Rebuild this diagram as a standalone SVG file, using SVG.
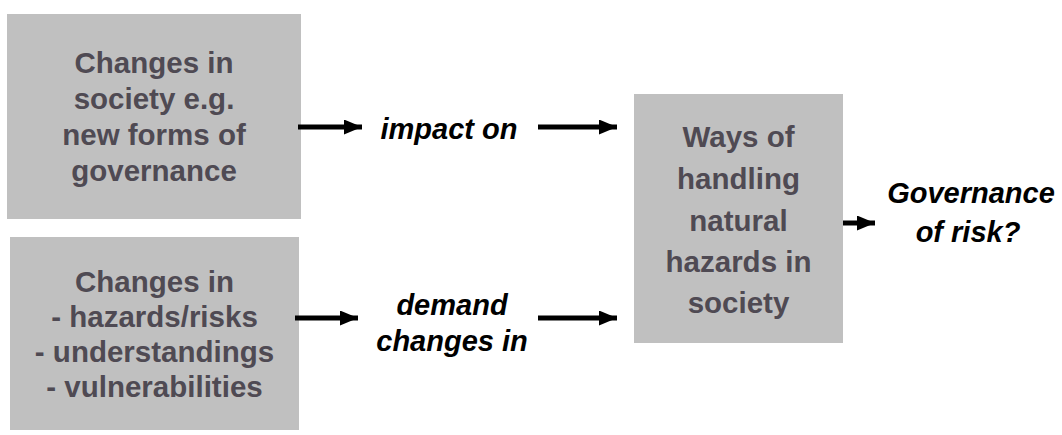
<svg xmlns="http://www.w3.org/2000/svg" width="1062" height="435" viewBox="0 0 1062 435">
<defs>
<style>
.box{fill:#c0c0c0;}
.bt{font-family:"Liberation Sans",Arial,sans-serif;font-weight:bold;font-size:29.5px;fill:#4f4a53;text-anchor:middle;}
.lt{font-family:"Liberation Sans",Arial,sans-serif;font-weight:bold;font-style:italic;font-size:29px;fill:#000;text-anchor:middle;}
.ar{stroke:#000;stroke-width:5;fill:none;marker-end:url(#ah);}
</style>
<marker id="ah" markerUnits="userSpaceOnUse" markerWidth="19" markerHeight="17" refX="18" refY="7.5" orient="auto">
<path d="M0,0 L18,7.5 L0,15 Z" fill="#000"/>
</marker>
</defs>
<rect width="1062" height="435" fill="#fff"/>
<g id="node-society">
<rect class="box" x="7" y="14" width="294" height="205"/>
<text class="bt" x="154" y="73">Changes in</text>
<text class="bt" x="154" y="109">society e.g.</text>
<text class="bt" x="154" y="145">new forms of</text>
<text class="bt" x="154" y="181">governance</text>
</g>
<g id="node-hazards">
<rect class="box" x="10" y="237" width="289" height="193"/>
<text class="bt" x="154.5" y="292">Changes in</text>
<text class="bt" x="154.5" y="327">- hazards/risks</text>
<text class="bt" x="154.5" y="362">- understandings</text>
<text class="bt" x="154.5" y="397">- vulnerabilities</text>
</g>
<g id="node-ways">
<rect class="box" x="634" y="94" width="209" height="249"/>
<text class="bt" x="738.5" y="147">Ways of</text>
<text class="bt" x="738.5" y="189">handling</text>
<text class="bt" x="738.5" y="231">natural</text>
<text class="bt" x="738.5" y="272">hazards in</text>
<text class="bt" x="738.5" y="313">society</text>
</g>
<g id="label-impact">
<text class="lt" x="449" y="139">impact on</text>
</g>
<g id="label-demand">
<text class="lt" x="452" y="315">demand</text>
<text class="lt" x="452" y="351">changes in</text>
</g>
<g id="node-governance">
<text class="lt" x="971" y="203">Governance</text>
<text class="lt" x="968" y="242">of risk?</text>
</g>
<g id="connectors">
<line class="ar" x1="298" y1="127" x2="362" y2="127"/>
<line class="ar" x1="538" y1="127" x2="617" y2="127"/>
<line class="ar" x1="295" y1="318" x2="358" y2="318"/>
<line class="ar" x1="538" y1="318" x2="617" y2="318"/>
<line class="ar" x1="843" y1="223" x2="875" y2="223"/>
</g>
</svg>
